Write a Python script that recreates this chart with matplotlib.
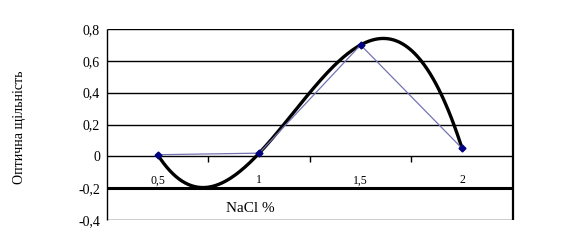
import numpy as np
import matplotlib.pyplot as plt

# NaCl concentration (%) and optical density
nacl = ["0,5", "1", "1,5", "2"]
density = [0.01, 0.02, 0.70, 0.05]
y_ticks = [-0.4, -0.2, 0.0, 0.2, 0.4, 0.6, 0.8]
y_labels = ["-0,4", "-0,2", "0", "0,2", "0,4", "0,6", "0,8"]

plt.rcParams["font.family"] = ["Liberation Serif", "DejaVu Serif"]

fig = plt.figure(figsize=(5.66, 2.42), dpi=100)
ax = fig.add_axes([0.189, 0.091, 0.717, 0.789])

pos = np.arange(len(nacl))

# horizontal grid lines (the -0.2 one is heavy like the original)
for v in y_ticks:
    lw = 2.2 if abs(v + 0.2) < 1e-9 else 1.0
    ax.axhline(v, color="black", lw=lw, zorder=1, solid_capstyle="butt")

# data series
ax.plot(pos, density, color="#7474b4", lw=0.9, zorder=3)
ax.plot(pos, density, ls="none", marker="D", ms=3.5, color="#000080", zorder=4)

# cubic polynomial trendline
coef = np.polyfit(pos, density, 3)
xs = np.linspace(pos[0], pos[-1], 200)
ax.plot(xs, np.polyval(coef, xs), color="black", lw=2.4, zorder=2)

ax.set_xlim(-0.5, len(nacl) - 0.5)
ax.set_ylim(-0.4, 0.8)
ax.set_yticks(y_ticks)
ax.set_yticklabels(y_labels, fontsize=10)
ax.tick_params(axis="y", length=0, pad=5)

ax.spines["bottom"].set_position(("data", 0))
ax.spines["bottom"].set_visible(False)
ax.spines["top"].set_visible(False)
ax.spines["left"].set_linewidth(1.0)
ax.spines["right"].set_linewidth(1.6)
for s in ax.spines.values():
    s.set_capstyle("butt")

ax.set_xticks(pos)
ax.set_xticklabels(nacl, fontsize=8.5)
ax.set_xticks(pos[:-1] + 0.5, minor=True)
ax.tick_params(axis="x", which="major", length=0, pad=13)
ax.tick_params(axis="x", which="minor", length=4, width=1, direction="out")

fig.text(0.035, 0.475, "Оптична щільність", rotation=90, ha="center", va="center", fontsize=10)
fig.text(0.442, 0.14, "NaCl %", ha="center", va="center", fontsize=11)

fig.savefig("out.png", dpi=100)
